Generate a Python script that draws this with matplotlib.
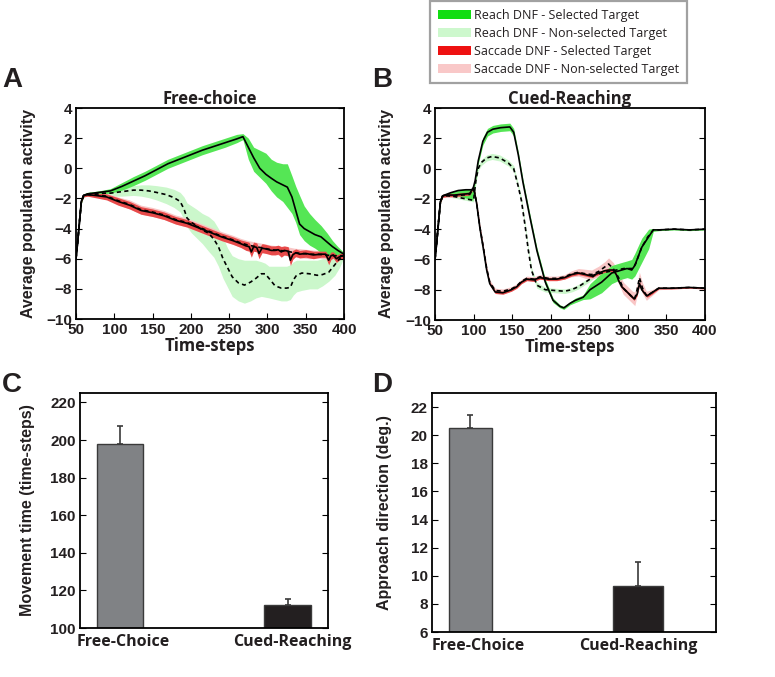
import matplotlib
matplotlib.use("Agg")
import matplotlib.pyplot as plt
from matplotlib.patches import Patch

# ---------------- Panel A : Free-choice ----------------
A_rs_t = [50, 52, 55, 57, 60, 65, 80, 95, 110, 125, 140, 155, 170, 185, 200, 215, 230, 245, 260, 268,
          275, 282, 290, 298, 305, 312, 320, 326, 332, 337, 342, 348, 355, 362, 370, 378, 385, 392, 400]
A_rs_m = [-6, -5, -3.3, -2.2, -1.8, -1.7, -1.6, -1.5, -1.2, -0.85, -0.5, -0.1, 0.3, 0.6, 0.9, 1.2, 1.45, 1.7, 1.95, 2.1,
          1.4, 0.7, 0.0, -0.4, -0.66, -0.9, -1.1, -1.25, -1.9, -2.8, -3.7, -4.0, -4.2, -4.4, -4.55, -4.9, -5.2, -5.45, -5.7]
A_rs_lo = [-6, -5, -3.3, -2.3, -1.9, -1.8, -1.7, -1.65, -1.45, -1.15, -0.8, -0.4, 0.0, 0.3, 0.6, 0.9, 1.15, 1.4, 1.7, 1.9,
           0.6, -0.2, -0.6, -1.0, -1.5, -1.9, -2.2, -2.6, -3.0, -3.6, -4.4, -4.8, -5.1, -5.3, -5.6, -5.75, -5.8, -5.8, -5.8]
A_rs_hi = [-6, -5, -3.3, -2.1, -1.7, -1.6, -1.5, -1.35, -0.95, -0.55, -0.2, 0.2, 0.6, 0.9, 1.2, 1.5, 1.75, 2.0, 2.25, 2.3,
           2.0, 1.4, 1.2, 1.0, 0.6, 0.4, 0.3, 0.3, -0.5, -1.2, -1.8, -2.5, -3.0, -3.4, -3.8, -4.3, -4.8, -5.2, -5.6]

A_rn_t = [50, 52, 55, 57, 60, 65, 80, 95, 110, 125, 135, 145, 155, 168, 178, 186, 191, 195, 201, 207, 215, 223,
          230, 236, 242, 248, 254, 262, 270, 278, 285, 292, 297, 302, 310, 318, 325, 330, 334, 338, 345, 355,
          365, 372, 380, 388, 394, 400]
A_rn_m = [-6, -5, -3.3, -2.2, -1.8, -1.7, -1.65, -1.65, -1.55, -1.45, -1.45, -1.5, -1.6, -1.75, -1.95, -2.2, -2.7, -3.3,
          -3.6, -3.8, -4.1, -4.3, -4.7, -5.2, -6.0, -6.6, -7.2, -7.6, -7.75, -7.55, -7.3, -7.0, -7.0, -7.3, -7.8, -7.95,
          -7.95, -7.9, -7.4, -7.1, -6.95, -7.0, -7.1, -7.05, -6.9, -6.4, -6.0, -5.75]
A_rn_lo = [-6, -5, -3.3, -2.3, -1.9, -1.8, -1.8, -1.85, -1.85, -1.8, -1.85, -1.95, -2.1, -2.35, -2.6, -2.9, -3.4, -3.9,
           -4.3, -4.6, -5.0, -5.5, -5.9, -6.5, -7.3, -7.9, -8.5, -8.8, -8.95, -8.8, -8.6, -8.5, -8.55, -8.6, -8.7, -8.8,
           -8.8, -8.7, -8.4, -8.2, -8.1, -8.0, -8.0, -7.8, -7.5, -7.1, -6.6, -5.9]
A_rn_hi = [-6, -5, -3.3, -2.1, -1.7, -1.6, -1.5, -1.45, -1.3, -1.15, -1.1, -1.1, -1.15, -1.25, -1.4, -1.6, -1.9, -2.3,
           -2.5, -2.7, -3.0, -3.2, -3.5, -4.0, -4.6, -5.3, -5.8, -6.0, -6.1, -6.1, -6.1, -6.2, -6.3, -6.5, -6.5, -6.5,
           -6.5, -6.4, -6.2, -6.1, -6.1, -6.1, -6.1, -6.0, -6.0, -5.8, -5.6, -5.6]

A_ss_t = [50, 52, 55, 57, 60, 65, 75, 90, 105, 120, 135, 150, 165, 180, 195, 210, 225, 240, 255, 265, 272, 276,
          279, 282, 286, 289, 293, 298, 305, 310, 314, 318, 322, 327, 330, 333, 337, 342, 350, 360, 370, 376, 380,
          383, 386, 390, 395, 400]
A_ss_m = [-6, -5, -3.3, -2.2, -1.8, -1.75, -1.8, -1.9, -2.2, -2.45, -2.8, -2.95, -3.15, -3.45, -3.65, -3.95, -4.25,
          -4.55, -4.8, -5.0, -5.15, -5.2, -5.55, -5.2, -5.25, -5.65, -5.3, -5.35, -5.45, -5.45, -5.4, -5.55, -5.45,
          -5.5, -6.1, -5.75, -5.6, -5.7, -5.65, -5.75, -5.7, -5.7, -6.1, -5.8, -5.75, -6.0, -5.85, -5.8]
A_ss_w = [0, 0, 0, 0.05, 0.1, 0.1, 0.15, 0.2, 0.25, 0.25, 0.25, 0.25, 0.25, 0.25, 0.25, 0.25, 0.25,
          0.25, 0.25, 0.25, 0.3, 0.3, 0.35, 0.3, 0.3, 0.35, 0.3, 0.3, 0.3, 0.3, 0.3, 0.35, 0.3,
          0.3, 0.35, 0.3, 0.25, 0.25, 0.25, 0.25, 0.2, 0.2, 0.3, 0.25, 0.2, 0.25, 0.2, 0.15]

A_sn_t = [50, 52, 55, 57, 60, 65, 75, 90, 105, 120, 135, 150, 165, 180, 195, 210, 225, 240, 255, 265, 275,
          285, 295, 305, 315, 325, 335, 345, 355, 365, 375, 385, 395, 400]
A_sn_m = [-6, -5, -3.3, -2.2, -1.8, -1.75, -1.75, -1.85, -2.15, -2.4, -2.75, -2.9, -3.1, -3.4, -3.6, -3.9, -4.2,
          -4.5, -4.75, -4.95, -5.1, -5.2, -5.3, -5.4, -5.45, -5.5, -5.6, -5.65, -5.7, -5.7, -5.75, -5.8, -5.8, -5.8]
A_sn_w = [0, 0, 0, 0.05, 0.1, 0.1, 0.15, 0.2, 0.25, 0.3, 0.3, 0.3, 0.3, 0.3, 0.3, 0.3, 0.3,
          0.3, 0.3, 0.3, 0.3, 0.3, 0.3, 0.3, 0.3, 0.3, 0.3, 0.3, 0.3, 0.25, 0.25, 0.2, 0.15, 0.1]

# ---------------- Panel B : Cued-Reaching ----------------
B_rs_t = [50, 52, 55, 57, 60, 70, 80, 90, 99, 102, 106, 112, 118, 125, 135, 147, 152, 158, 164, 173, 182, 193,
          203, 212, 217, 225, 232, 242, 251, 266, 279, 292, 299, 305, 309, 318, 327, 333, 340, 360, 380, 400]
B_rs_m = [-6, -5, -3.3, -2.2, -1.8, -1.6, -1.45, -1.4, -1.4, -0.8, 0.5, 1.8, 2.4, 2.6, 2.7, 2.75, 2.4, 0.9, -0.9,
          -3.2, -5.4, -7.5, -8.7, -9.1, -9.2, -8.9, -8.7, -8.5, -8.0, -7.5, -6.9, -6.7, -6.6, -6.7, -6.4, -5.2,
          -4.5, -4.05, -4.05, -4.0, -4.05, -4.0]
B_rs_lo = [-6, -5, -3.3, -2.25, -1.85, -1.75, -1.8, -1.95, -2.1, -1.0, 0.3, 1.55, 2.15, 2.35, 2.45, 2.5, 2.15,
           0.7, -1.1, -3.4, -5.6, -7.7, -8.85, -9.2, -9.3, -9.0, -8.85, -8.65, -8.6, -8.2, -7.6, -7.3, -7.2, -7.3,
           -7.1, -6.2, -5.3, -4.15, -4.1, -4.05, -4.1, -4.05]
B_rs_hi = [-6, -5, -3.3, -2.15, -1.75, -1.55, -1.4, -1.35, -1.35, -0.6, 0.7, 2.05, 2.65, 2.85, 2.95, 3.0, 2.65,
           1.1, -0.7, -3.0, -5.2, -7.3, -8.55, -9.0, -9.1, -8.8, -8.55, -8.35, -7.6, -6.9, -6.4, -6.2, -6.1, -6.0,
           -5.6, -4.6, -4.0, -3.95, -4.0, -3.95, -4.0, -3.95]

B_rn_t = [50, 52, 55, 57, 60, 65, 75, 85, 95, 100, 103, 106, 110, 117, 124, 134, 145, 152, 158, 162, 167, 171,
          175, 182, 193, 205, 218, 227, 236, 245, 251, 258, 266, 275, 285, 295, 302, 306, 310, 318, 326, 333, 340,
          360, 380, 400]
B_rn_m = [-6, -5, -3.3, -2.2, -1.8, -1.75, -1.85, -1.95, -2.05, -2.1, -0.8, 0.0, 0.4, 0.7, 0.8, 0.7, 0.37, 0.0,
          -1.2, -2.1, -3.85, -5.4, -6.7, -7.7, -8.0, -8.05, -8.1, -8.0, -7.8, -7.5, -7.3, -7.0, -6.9, -6.8, -6.7,
          -6.6, -6.6, -6.6, -6.3, -5.2, -4.5, -4.05, -4.05, -4.0, -4.05, -4.0]
B_rn_w = [0, 0, 0, 0.05, 0.1, 0.1, 0.1, 0.1, 0.1, 0.1, 0.15, 0.15, 0.2, 0.2, 0.2, 0.2, 0.2, 0.2,
          0.2, 0.2, 0.2, 0.2, 0.2, 0.2, 0.15, 0.15, 0.15, 0.15, 0.15, 0.15, 0.15, 0.15, 0.15, 0.15, 0.15,
          0.15, 0.15, 0.15, 0.15, 0.15, 0.1, 0.05, 0.05, 0.05, 0.05, 0.05]

B_ss_t = [50, 52, 55, 57, 60, 65, 75, 85, 95, 99, 101, 104, 108, 113, 117, 121, 128, 138, 149, 156, 162, 169,
          178, 186, 197, 208, 218, 227, 236, 245, 253, 262, 270, 276, 281, 285, 288, 292, 296, 300, 304, 308,
          312, 315, 318, 321, 325, 331, 340, 357, 380, 400]
B_ss_m = [-6, -5, -3.3, -2.2, -1.8, -1.75, -1.75, -1.7, -1.65, -1.3, -1.5, -2.3, -3.85, -5.4, -6.7, -7.6, -8.15,
          -8.2, -8.0, -7.8, -7.5, -7.3, -7.35, -7.2, -7.3, -7.3, -7.2, -7.0, -6.9, -7.0, -7.1, -6.9, -6.75, -6.7,
          -6.7, -7.0, -7.4, -7.8, -8.0, -8.2, -8.4, -8.6, -8.3, -7.6, -8.0, -8.2, -8.4, -8.2, -7.9, -7.9, -7.85, -7.9]
B_ss_w = [0, 0, 0, 0.05, 0.1, 0.1, 0.1, 0.1, 0.1, 0.1, 0.1, 0.1, 0.1, 0.1, 0.1, 0.1, 0.1,
          0.1, 0.1, 0.1, 0.1, 0.1, 0.1, 0.1, 0.1, 0.1, 0.1, 0.1, 0.1, 0.1, 0.1, 0.1, 0.1, 0.1,
          0.1, 0.1, 0.1, 0.1, 0.1, 0.1, 0.1, 0.1, 0.1, 0.15, 0.1, 0.1, 0.1, 0.1, 0.05, 0.05, 0.05, 0.05]

B_sn_t = [50, 52, 55, 57, 60, 65, 75, 85, 95, 99, 101, 104, 108, 113, 117, 121, 128, 138, 149, 156, 162, 169,
          178, 186, 197, 208, 218, 227, 236, 245, 253, 262, 270, 275, 281, 288, 294, 300, 306, 309, 312, 315,
          319, 324, 331, 340, 357, 380, 400]
B_sn_m = [-6, -5, -3.3, -2.2, -1.8, -1.8, -1.8, -1.75, -1.7, -1.4, -1.5, -2.3, -3.8, -5.3, -6.6, -7.5, -8.05,
          -8.1, -7.95, -7.75, -7.45, -7.25, -7.3, -7.15, -7.25, -7.25, -7.15, -6.95, -6.85, -6.95, -7.0, -6.8,
          -6.5, -6.3, -6.6, -7.2, -7.9, -8.2, -8.5, -8.6, -8.0, -7.2, -7.9, -8.4, -8.2, -7.9, -7.9, -7.85, -7.9]
B_sn_w = [0, 0, 0, 0.05, 0.1, 0.1, 0.1, 0.1, 0.1, 0.1, 0.1, 0.1, 0.15, 0.15, 0.15, 0.15, 0.15,
          0.15, 0.15, 0.15, 0.15, 0.15, 0.15, 0.15, 0.15, 0.15, 0.15, 0.2, 0.25, 0.3, 0.3, 0.35, 0.35,
          0.4, 0.4, 0.4, 0.4, 0.4, 0.4, 0.45, 0.4, 0.35, 0.35, 0.3, 0.2, 0.1, 0.05, 0.05, 0.05]

# ---------------- Panels C and D : bars ----------------
bar_cats = ["Free-Choice", "Cued-Reaching"]
C_vals = [197.7, 112.1]
C_err = [9.8, 3.2]
D_vals = [20.5, 9.25]
D_err = [0.95, 1.7]

legend_labels = ["Reach DNF - Selected Target", "Reach DNF - Non-selected Target",
                 "Saccade DNF - Selected Target", "Saccade DNF - Non-selected Target"]

# ---------------- style ----------------
TXT = "#231f20"
BOLD_FONT = ["Liberation Sans", "DejaVu Sans"]
MYR_FONT = ["Open Sans", "DejaVu Sans"]
plt.rcParams["font.family"] = BOLD_FONT
plt.rcParams["font.weight"] = "bold"
plt.rcParams["axes.labelweight"] = "bold"
plt.rcParams["axes.titleweight"] = "bold"

C_RS = "#55e655"
C_RN = "#cbf7cb"
C_SS = "#e84a4a"
C_SN = "#f8c6c6"

W, H = 775, 677
fig = plt.figure(figsize=(W / 100, H / 100), dpi=100)


def ax_at(x0, y0, x1, y1):
    return fig.add_axes([x0 / W, 1 - y1 / H, (x1 - x0) / W, (y1 - y0) / H])


def style_axes(ax):
    for s in ax.spines.values():
        s.set_linewidth(1.3)
        s.set_color("black")
    ax.tick_params(direction="in", length=4, width=0.8, top=False, right=True,
                   labelsize=11, colors="black", labelcolor=TXT, pad=3)


def ts_panel(ax, title, rs, rn, ss, sn):
    (rs_t, rs_m, rs_lo, rs_hi) = rs
    (rn_t, rn_m, rn_lo, rn_hi) = rn
    (ss_t, ss_m, ss_lo, ss_hi) = ss
    (sn_t, sn_m, sn_lo, sn_hi) = sn
    ax.fill_between(rn_t, rn_lo, rn_hi, color=C_RN, lw=0)
    ax.fill_between(sn_t, sn_lo, sn_hi, color=C_SN, lw=0)
    ax.fill_between(rs_t, rs_lo, rs_hi, color=C_RS, lw=0)
    ax.fill_between(ss_t, ss_lo, ss_hi, color=C_SS, lw=0)
    ax.plot(rn_t, rn_m, color="black", lw=1.2, ls=(0, (2.5, 2.0)))
    ax.plot(sn_t, sn_m, color="black", lw=1.2, ls=(0, (2.5, 2.0)))
    ax.plot(rs_t, rs_m, color="black", lw=1.2)
    ax.plot(ss_t, ss_m, color="black", lw=1.2)
    ax.set_xlim(50, 400)
    ax.set_ylim(-10, 4)
    ax.set_xticks(range(50, 401, 50))
    ax.set_yticks(range(-10, 5, 2))
    style_axes(ax)
    ax.set_title(title, fontfamily=MYR_FONT, fontweight="bold", fontsize=12, color=TXT, pad=1)
    ax.set_xlabel("Time-steps", fontfamily=MYR_FONT, fontweight="bold", fontsize=12, color=TXT)
    ax.xaxis.set_label_coords(0.5, -0.085)
    ax.set_ylabel("Average population activity", fontsize=11.5, color=TXT)


def band(lst_m, lst_w):
    return [m - w for m, w in zip(lst_m, lst_w)], [m + w for m, w in zip(lst_m, lst_w)]


# Panel A
axA = ax_at(76, 108, 344, 319)
A_ss_lo, A_ss_hi = band(A_ss_m, A_ss_w)
A_sn_lo, A_sn_hi = band(A_sn_m, A_sn_w)
ts_panel(axA, "Free-choice",
         (A_rs_t, A_rs_m, A_rs_lo, A_rs_hi),
         (A_rn_t, A_rn_m, A_rn_lo, A_rn_hi),
         (A_ss_t, A_ss_m, A_ss_lo, A_ss_hi),
         (A_sn_t, A_sn_m, A_sn_lo, A_sn_hi))
axA.yaxis.set_label_coords(-0.15, 0.5)

# Panel B
axB = ax_at(435, 108, 705, 320)
B_rn_lo, B_rn_hi = band(B_rn_m, B_rn_w)
B_ss_lo, B_ss_hi = band(B_ss_m, B_ss_w)
B_sn_lo, B_sn_hi = band(B_sn_m, B_sn_w)
ts_panel(axB, "Cued-Reaching",
         (B_rs_t, B_rs_m, B_rs_lo, B_rs_hi),
         (B_rn_t, B_rn_m, B_rn_lo, B_rn_hi),
         (B_ss_t, B_ss_m, B_ss_lo, B_ss_hi),
         (B_sn_t, B_sn_m, B_sn_lo, B_sn_hi))
axB.yaxis.set_label_coords(-0.152, 0.5)


def bar_panel(ax, vals, errs, widths, xlim, ylim, yticks, ylabel, ylab_x, label_pos, label_size):
    xs = [1, 2]
    colors = ["#808285", "#231f20"]
    ax.bar(xs, vals, width=widths, color=colors, edgecolor="#3a3a3a", lw=1.0, zorder=2)
    for x, v, e in zip(xs, vals, errs):
        ax.errorbar([x], [v], yerr=[[0], [e]], fmt="none", ecolor="#3a3a3a", elinewidth=1.2,
                    capsize=2.5, capthick=1.2, zorder=3)
    ax.set_xlim(*xlim)
    ax.set_ylim(*ylim)
    ax.set_yticks(yticks)
    ax.set_xticks(label_pos)
    style_axes(ax)
    ax.set_xticklabels(bar_cats, fontfamily=MYR_FONT, fontweight="bold", fontsize=label_size)
    ax.tick_params(axis="x", length=0, pad=4)
    ax.set_ylabel(ylabel, fontsize=11.5, color=TXT)
    ax.yaxis.set_label_coords(ylab_x, 0.5)


axC = ax_at(80, 393, 328, 628)
bar_panel(axC, C_vals, C_err, [0.278, 0.278], (0.762, 2.24), (100, 225), range(100, 221, 20),
          "Movement time (time-steps)", -0.18, [1.02, 2.03], 11.5)

axD = ax_at(432, 393, 716, 632)
bar_panel(axD, D_vals, D_err, [0.254, 0.298], (0.772, 2.464), (6, 23), range(6, 23, 2),
          "Approach direction (deg.)", -0.14, [1.05, 2.0], 11.5)

# Panel letters
for letter, x, y in [("A", 2, 87), ("B", 372, 87), ("C", 2, 392), ("D", 372, 392)]:
    fig.text(x / W, 1 - y / H, letter, fontsize=20, fontweight="bold",
             color=TXT, va="baseline", ha="left")

# Legend
handles = [Patch(facecolor="#12dd12", edgecolor="none"),
           Patch(facecolor="#cdf8cd", edgecolor="none"),
           Patch(facecolor="#ee1111", edgecolor="none"),
           Patch(facecolor="#f9c8c8", edgecolor="none")]
leg = fig.legend(handles, legend_labels, loc="upper left", bbox_to_anchor=(430 / W, 1 - 1 / H),
                 frameon=True, fancybox=False, borderaxespad=0,
                 prop={"family": MYR_FONT, "size": 9, "weight": "normal"},
                 handlelength=2.7, handleheight=0.75, handletextpad=0.25, labelspacing=0.4,
                 borderpad=0.6, labelcolor=TXT)
leg.get_frame().set_edgecolor("#8a8a8a")
leg.get_frame().set_linewidth(1.6)

fig.savefig("out.png", dpi=100)
